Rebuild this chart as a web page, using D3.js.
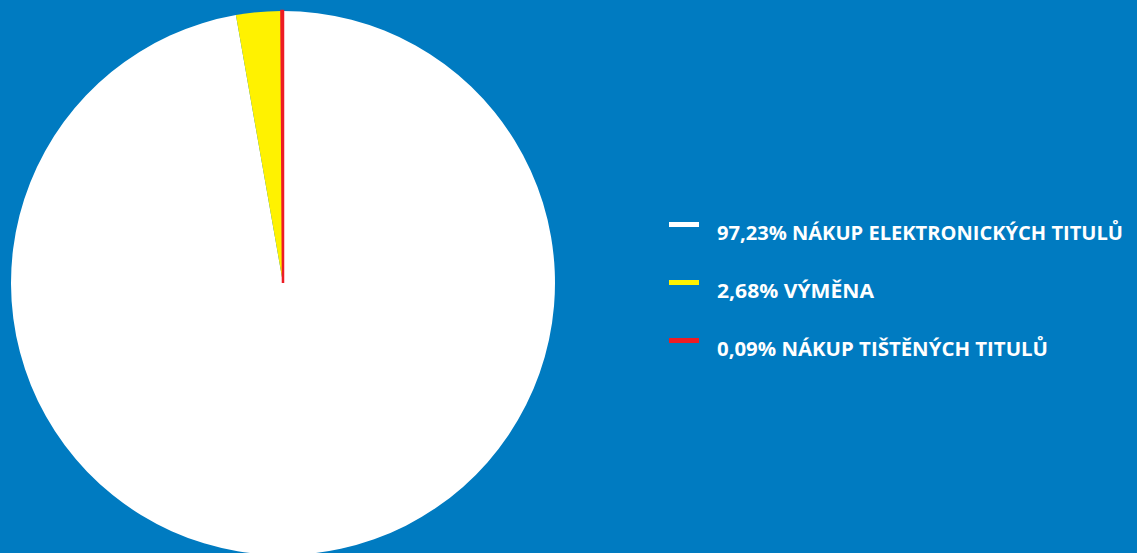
<!DOCTYPE html>
<html><head><meta charset="utf-8">
<script src="https://cdn.jsdelivr.net/npm/d3@7"></script>
<style>html,body{margin:0;padding:0;background:#007bc1;overflow:hidden}</style>
</head><body>
<svg id="c" width="1137" height="553"></svg>
<script>
const categories = ["NÁKUP ELEKTRONICKÝCH TITULŮ", "VÝMĚNA", "NÁKUP TIŠTĚNÝCH TITULŮ"];
const values = [97.23, 2.68, 0.09];
const labels = ["97,23%", "2,68%", "0,09%"];
const colors = ["#ffffff", "#fff200", "#ed1c24"];

const svg = d3.select("#c");
const cx = 283, cy = 283, r = 272;
const pie = d3.pie().sort(null).value(d => d);
const arc = d3.arc().innerRadius(0).outerRadius(r);
const g = svg.append("g").attr("transform", `translate(${cx},${cy})`);
g.selectAll("path").data(pie(values)).join("path")
  .attr("d", arc)
  .attr("fill", (d, i) => colors[i])
  .attr("stroke", (d, i) => i === 2 ? colors[i] : "none")
  .attr("stroke-width", (d, i) => i === 2 ? 2.5 : 0);

const widths = [406, 157, 331];
const y = d3.scalePoint().domain(d3.range(categories.length)).range([224.5, 340.5]);
const lg = svg.append("g");
lg.selectAll("rect").data(categories).join("rect")
  .attr("x", 669).attr("y", (d, i) => y(i) - 2.5)
  .attr("width", 30).attr("height", 5)
  .attr("fill", (d, i) => colors[i]);
lg.selectAll("text").data(categories).join("text")
  .attr("x", 717).attr("y", (d, i) => y(i) + 15)
  .attr("fill", "#ffffff")
  .attr("font-family", "'Open Sans', sans-serif")
  .attr("font-weight", "bold")
  .attr("font-size", 19.5)
  .attr("textLength", (d, i) => widths[i])
  .attr("lengthAdjust", "spacingAndGlyphs")
  .text((d, i) => labels[i] + " " + d);
</script>
</body></html>
